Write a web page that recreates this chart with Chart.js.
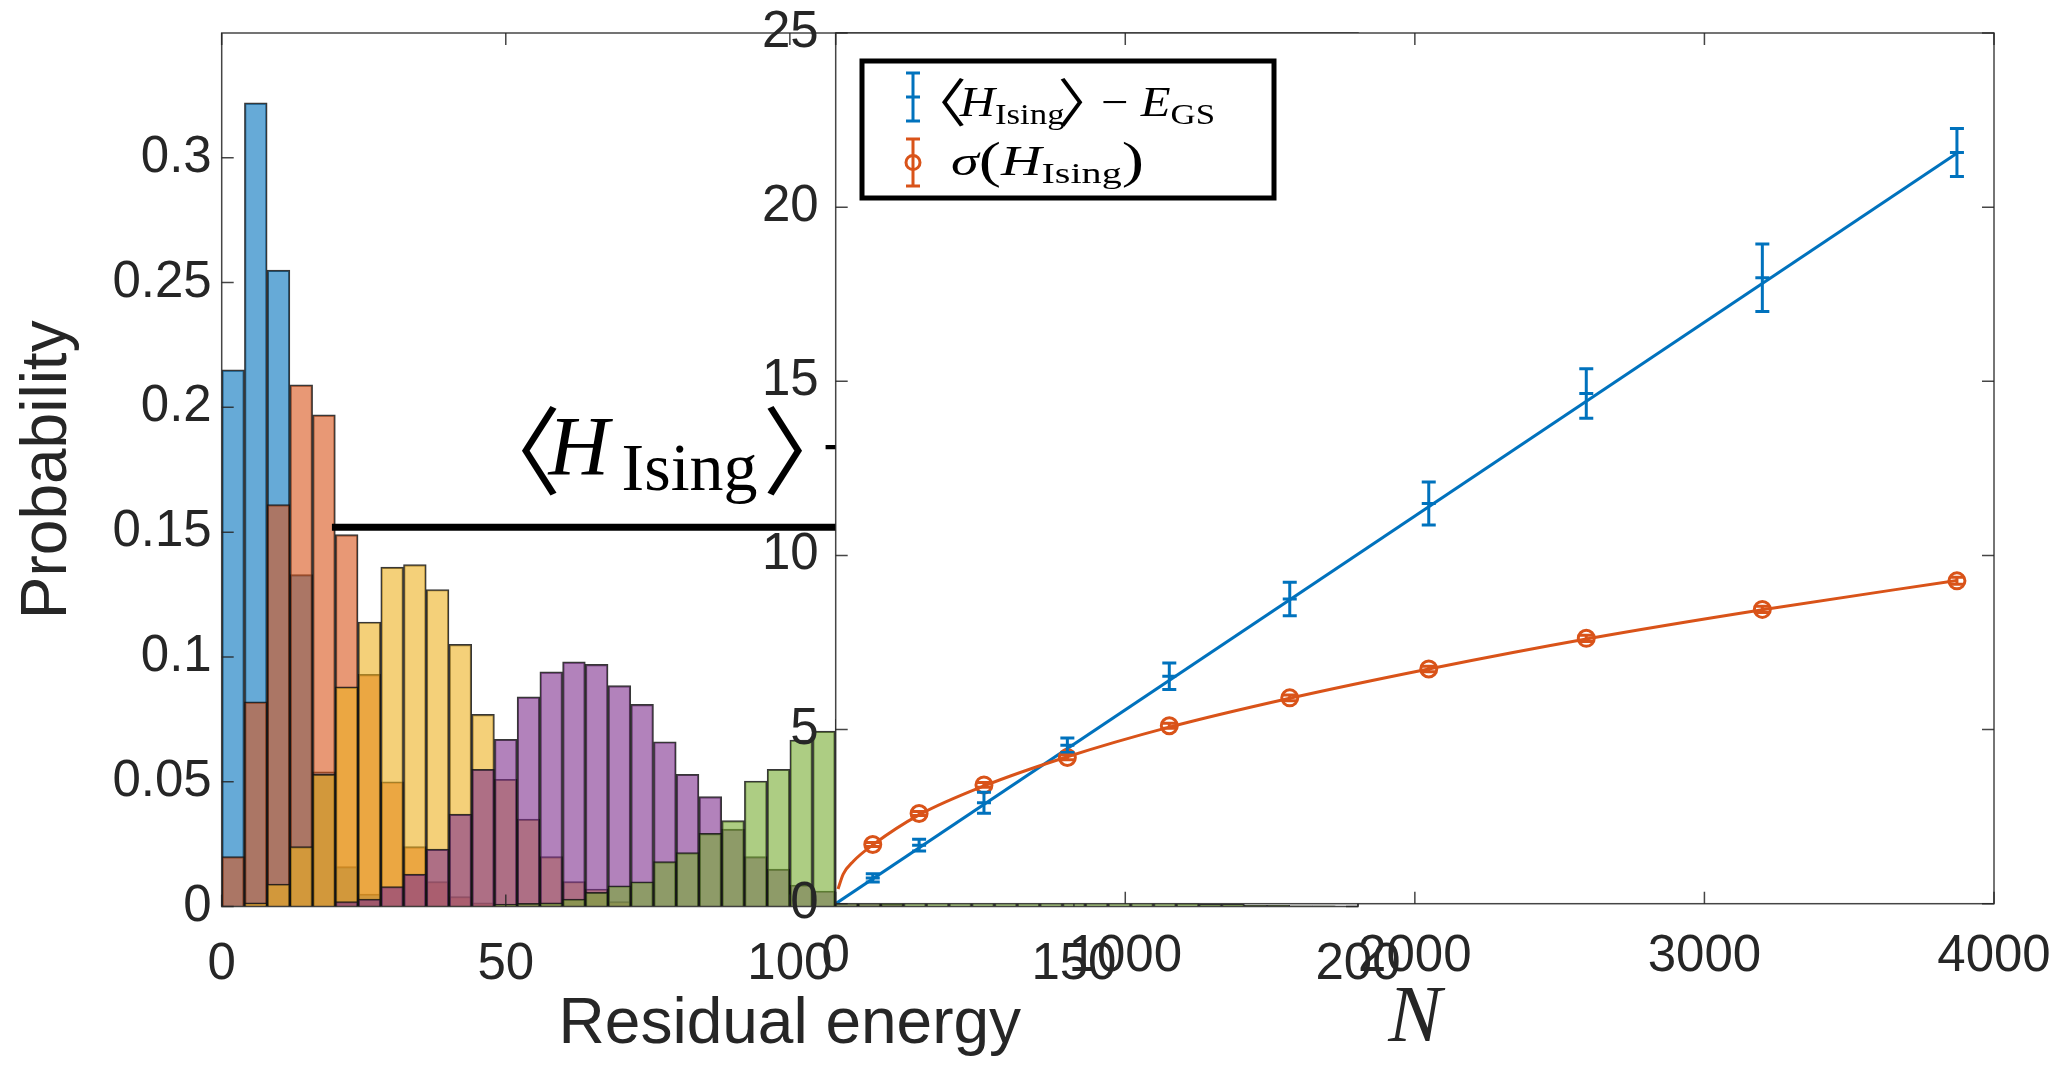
<!DOCTYPE html>
<html><head><meta charset="utf-8">
<script src="https://cdn.jsdelivr.net/npm/chart.js@4/dist/chart.umd.min.js"></script>
<style>
html,body{margin:0;padding:0;background:#fff;}
#wrap{position:relative;width:2066px;height:1068px;overflow:hidden;}
canvas{position:absolute;left:0;top:0;}
</style></head><body>
<div id="wrap"><canvas id="hist" width="2066" height="1068"></canvas><canvas id="inset" width="2066" height="1068"></canvas></div>
<script>
// ---------------- data: histogram (bin width 4) ----------------
const binCenters = [2,6,10,14,18,22,26,30,34,38,42,46,50,54,58,62,66,70,74,78,82,86,90,94,98,102,106,110,114,118,122,126,130,134,138,142,146,150,154,158,162,166,170,174,178,182,186,190,194,198];
const blueProb   = [0.215,0.322,0.255,0.133,0.054,0.016,0.005,0,0,0, 0,0,0,0,0,0,0,0,0,0, 0,0,0,0,0,0,0,0,0,0, 0,0,0,0,0,0,0,0,0,0, 0,0,0,0,0,0,0,0,0,0];
const orangeProb = [0.020,0.082,0.161,0.209,0.197,0.149,0.093,0.050,0.024,0.010, 0.004,0.0015,0,0,0,0,0,0,0,0, 0,0,0,0,0,0,0,0,0,0, 0,0,0,0,0,0,0,0,0,0, 0,0,0,0,0,0,0,0,0,0];
const yellowProb = [0,0.0015,0.009,0.024,0.053,0.088,0.114,0.136,0.137,0.127, 0.105,0.077,0.051,0.035,0.020,0.010,0.007,0.002,0,0, 0,0,0,0,0,0,0,0,0,0, 0,0,0,0,0,0,0,0,0,0, 0,0,0,0,0,0,0,0,0,0];
const purpleProb = [0,0,0,0,0,0.002,0.003,0.008,0.013,0.023, 0.037,0.055,0.067,0.084,0.094,0.098,0.097,0.0885,0.081,0.066, 0.053,0.044,0.031,0.020,0.015,0.0086,0.0062,0.004,0.002,0.001, 0,0,0,0,0,0,0,0,0,0, 0,0,0,0,0,0,0,0,0,0];
const greenProb  = [0,0,0,0,0,0,0,0,0,0, 0,0,0.001,0.0013,0.0015,0.003,0.0057,0.0083,0.0099,0.018, 0.0216,0.0293,0.0344,0.0503,0.055,0.0667,0.0703,0.075,0.078,0.080, 0.078,0.072,0.064,0.053,0.042,0.031,0.022,0.015,0.010,0.006, 0.004,0.002,0.0015,0.001,0.001,0.0005,0.0005,0.0003,0.0003,0];
const histXTicks = [0,50,100,150,200];
const histYTicks = [0,0.05,0.1,0.15,0.2,0.25,0.3];

// ---------------- data: inset ----------------
const nSizes       = [128,288,512,800,1152,1568,2048,2592,3200,3872];
const residualMean = [0.74,1.68,2.90,4.55,6.53,8.75,11.49,14.65,17.97,21.57];
const residualErr  = [0.12,0.17,0.30,0.21,0.38,0.48,0.62,0.71,0.97,0.69];
const sigmaMean    = [1.70,2.59,3.41,4.20,5.11,5.91,6.74,7.62,8.45,9.27];
const sigmaErr     = [0.06,0.06,0.07,0.07,0.07,0.08,0.08,0.09,0.09,0.10];
const linFitN  = [0,3872];
const linFitE  = [0,21.55];
const sqrtFitN = [8,26,61,130,288,512,800,1152,1568,2048,2592,3200,3872];
const sqrtFitS = [0.42,0.85,1.22,1.70,2.55,3.38,4.22,5.07,5.90,6.74,7.60,8.44,9.28];
const insetXTicks = [0,1000,2000,3000,4000];
const insetYTicks = [0,5,10,15,20,25];

// ---------------- styles ----------------
const SANS = "'Liberation Sans',Arial,sans-serif";
const SERIF = "'Liberation Serif','DejaVu Serif',serif";
const BRK = "'Noto Sans CJK JP','Noto Sans CJK SC','DejaVu Sans',sans-serif";
const TICK_FONT = {family:SANS, size:51};
const LABEL_FONT = {family:SANS, size:64};
const TXT = '#262626';
const C_BLUE = '#0072BD', C_ORANGE = '#D95319';
const histFill = ['rgba(0,114,189,0.6)','rgba(217,83,25,0.6)','rgba(237,177,32,0.6)','rgba(126,47,142,0.6)','rgba(119,172,48,0.6)'];
const histSeries = [blueProb, orangeProb, yellowProb, purpleProb, greenProb];
const TL = 12;

function zeroPad(s){ s.paddingLeft=0; s.paddingRight=0; s.paddingTop=0; s.paddingBottom=0; }
function drawBoxTicks(chart, xt, yt){
  const {ctx, chartArea:a, scales:{x,y}} = chart;
  ctx.save();
  ctx.strokeStyle = 'rgba(38,38,38,0.85)'; ctx.lineWidth = 1.5;
  ctx.strokeRect(a.left, a.top, a.right-a.left, a.bottom-a.top);
  ctx.beginPath();
  xt.forEach(v=>{const p=x.getPixelForValue(v); ctx.moveTo(p,a.bottom); ctx.lineTo(p,a.bottom-TL); ctx.moveTo(p,a.top); ctx.lineTo(p,a.top+TL);});
  yt.forEach(v=>{const p=y.getPixelForValue(v); ctx.moveTo(a.left,p); ctx.lineTo(a.left+TL,p); ctx.moveTo(a.right,p); ctx.lineTo(a.right-TL,p);});
  ctx.stroke();
  ctx.restore();
}
// draws a row of text pieces; p.adv overrides the advance (in em), p.ox shifts the glyph (in em)
function drawPieces(ctx, x0, base, pieces, targetW){
  let W = 0;
  pieces.forEach(p=>{ctx.font=p.f; const fs=parseFloat(p.f.replace(/^italic\s+/,'')); p.fs=fs;
    p.w = p.adv!=null ? p.adv*fs : ctx.measureText(p.t).width; W+=p.w;});
  const sx = targetW ? targetW/W : 1;
  ctx.save(); ctx.translate(x0, base); ctx.scale(sx,1);
  ctx.textBaseline='alphabetic'; ctx.textAlign='left';
  let cx = 0;
  pieces.forEach(p=>{
    ctx.font=p.f;
    ctx.fillText(p.t, cx + (p.ox||0)*p.fs, p.dy||0);
    cx+=p.w;
  });
  ctx.restore();
}

// annotation anchors (in histogram data units)
const annoLineY = 0.152, annoLineX0 = 19.4, annoLineX1 = 110;
const annoTextX = 53.3, annoTextBaseY = 0.173;

const histDecor = {
  id:'histDecor',
  afterDraw(chart){
    drawBoxTicks(chart, histXTicks, histYTicks);
    const {ctx, scales:{x,y}} = chart;
    ctx.save();
    ctx.strokeStyle='#000'; ctx.lineWidth=7;
    ctx.beginPath();
    ctx.moveTo(x.getPixelForValue(annoLineX0), y.getPixelForValue(annoLineY));
    ctx.lineTo(x.getPixelForValue(annoLineX1), y.getPixelForValue(annoLineY));
    ctx.stroke();
    const ax = x.getPixelForValue(annoTextX), ab = y.getPixelForValue(annoTextBaseY);
    ctx.fillStyle='#000'; ctx.textBaseline='alphabetic'; ctx.textAlign='left';
    ctx.font = "96px "+BRK;
    ctx.fillText('〈', ax-59, ab+12);
    ctx.font = "italic 84px 'Liberation Serif',serif";
    ctx.fillText('H', ax+24, ab);
    ctx.font = "68px 'Liberation Serif',serif";
    ctx.fillText('Ising', ax+97, ab+15);
    ctx.font = "96px "+BRK;
    ctx.fillText('〉', ax+238, ab+12);
    ctx.font = "84px 'Liberation Serif',serif";
    ctx.fillText('−', ax+297, ab);
    ctx.restore();
  }
};

new Chart(document.getElementById('hist'), {
  type:'bar',
  data:{datasets: histSeries.map((arr,i)=>({
    data: arr.map((v,j)=>({x:binCenters[j], y: v>0 ? v : null})),
    backgroundColor: histFill[i], borderColor:'rgba(20,20,20,0.85)', borderWidth:1.5,
    grouped:false, barPercentage:1, categoryPercentage:1, order: 4-i
  }))},
  options:{
    responsive:false, animation:false, devicePixelRatio:1, events:[],
    layout:{padding:{left:0,right:708,top:33,bottom:0}},
    plugins:{legend:{display:false}, tooltip:{enabled:false}},
    scales:{
      x:{type:'linear', min:0, max:200, offset:false,
        grid:{display:false, drawTicks:false}, border:{display:false},
        afterBuildTicks:s=>{s.ticks = histXTicks.map(v=>({value:v}));},
        afterFit:s=>{s.height = 161.5; zeroPad(s);},
        ticks:{autoSkip:false, maxRotation:0, padding:28, font:TICK_FONT, color:TXT, callback:v=>String(v)},
        title:{display:true, text:'Residual energy', font:LABEL_FONT, color:TXT, padding:{top:0,bottom:4}}},
      y:{type:'linear', min:0, max:0.35,
        grid:{display:false, drawTicks:false}, border:{display:false},
        afterBuildTicks:s=>{s.ticks = histYTicks.map(v=>({value:v}));},
        afterFit:s=>{s.width = 221.7; zeroPad(s);},
        ticks:{autoSkip:false, padding:10, font:TICK_FONT, color:TXT, callback:v=>String(v)},
        title:{display:true, text:'Probability', font:LABEL_FONT, color:TXT, padding:{top:10,bottom:0}}}
    }
  },
  plugins:[histDecor]
});

// ---------------- inset ----------------
const insetDecor = {
  id:'insetDecor',
  beforeDraw(chart){
    const {ctx, chartArea:a} = chart;
    ctx.save(); ctx.fillStyle='#fff'; ctx.fillRect(a.left, a.top, a.right-a.left, a.bottom-a.top); ctx.restore();
  },
  afterDatasetsDraw(chart){
    const {ctx, scales:{x,y}} = chart;
    const bars = [[residualMean,residualErr,C_BLUE],[sigmaMean,sigmaErr,C_ORANGE]];
    ctx.save(); ctx.lineWidth=3;
    bars.forEach(([m,e,c])=>{
      ctx.strokeStyle=c; ctx.beginPath();
      nSizes.forEach((n,i)=>{
        const px=x.getPixelForValue(n), y0=y.getPixelForValue(m[i]-e[i]), y1=y.getPixelForValue(m[i]+e[i]);
        ctx.moveTo(px,y0); ctx.lineTo(px,y1);
        ctx.moveTo(px-7,y0); ctx.lineTo(px+7,y0);
        ctx.moveTo(px-7,y1); ctx.lineTo(px+7,y1);
      });
      ctx.stroke();
    });
    ctx.restore();
  },
  afterDraw(chart){
    drawBoxTicks(chart, insetXTicks, insetYTicks);
    const {ctx} = chart;
    ctx.save();
    // legend box
    ctx.fillStyle='#fff'; ctx.fillRect(862,61,412,137);
    ctx.strokeStyle='#000'; ctx.lineWidth=5; ctx.strokeRect(862,61,412,137);
    // icons
    ctx.lineWidth=3;
    ctx.strokeStyle=C_BLUE; ctx.beginPath();
    ctx.moveTo(913,73); ctx.lineTo(913,121); ctx.moveTo(906,73); ctx.lineTo(920,73); ctx.moveTo(906,121); ctx.lineTo(920,121);
    ctx.moveTo(906,97); ctx.lineTo(920,97); ctx.stroke();
    ctx.strokeStyle=C_ORANGE; ctx.beginPath();
    ctx.moveTo(913,139); ctx.lineTo(913,186); ctx.moveTo(906,139); ctx.lineTo(920,139); ctx.moveTo(906,186); ctx.lineTo(920,186);
    ctx.stroke();
    ctx.beginPath(); ctx.arc(913,162.5,7,0,Math.PI*2); ctx.stroke();
    // texts
    ctx.fillStyle='#000';
    const B = "52px "+BRK, P = "50px "+SERIF, M = "42px "+SERIF, MI = "italic 42px "+SERIF, S = "30px "+SERIF;
    drawPieces(ctx, 938, 116, [{t:'〈',f:B,dy:6,adv:0.36,ox:-0.52},{t:'H',f:MI},{t:'Ising',f:S,dy:8},{t:'〉',f:B,dy:6,adv:0.4,ox:-0.12},{t:' − ',f:M},{t:'E',f:MI},{t:'GS',f:S,dy:8}], 277);
    drawPieces(ctx, 951, 175, [{t:'σ',f:MI},{t:'(',f:P,dy:2},{t:'H',f:MI},{t:'Ising',f:S,dy:8},{t:')',f:P,dy:2}], 193);
    ctx.restore();
  }
};

new Chart(document.getElementById('inset'), {
  type:'line',
  data:{datasets:[
    {data: linFitN.map((n,i)=>({x:n,y:linFitE[i]})), borderColor:C_BLUE, borderWidth:3, pointRadius:0, fill:false, order:3},
    {data: sqrtFitN.map((n,i)=>({x:n,y:sqrtFitS[i]})), borderColor:C_ORANGE, borderWidth:3, pointRadius:0, fill:false, cubicInterpolationMode:'monotone', order:2},
    {data: nSizes.map((n,i)=>({x:n,y:residualMean[i]})), showLine:false, pointStyle:'line', pointRadius:7, pointBorderWidth:3, borderColor:C_BLUE, backgroundColor:C_BLUE, order:1},
    {data: nSizes.map((n,i)=>({x:n,y:sigmaMean[i]})), showLine:false, pointStyle:'circle', pointRadius:8, pointBorderWidth:3, borderColor:C_ORANGE, backgroundColor:'rgba(0,0,0,0)', order:0}
  ]},
  options:{
    responsive:false, animation:false, devicePixelRatio:1, events:[],
    layout:{padding:{left:0,right:72,top:33,bottom:0}},
    plugins:{legend:{display:false}, tooltip:{enabled:false}},
    scales:{
      x:{type:'linear', min:0, max:4000,
        grid:{display:false, drawTicks:false}, border:{display:false},
        afterBuildTicks:s=>{s.ticks = insetXTicks.map(v=>({value:v}));},
        afterFit:s=>{s.height = 164.3; zeroPad(s);},
        ticks:{autoSkip:false, maxRotation:0, padding:23, font:TICK_FONT, color:TXT, callback:v=>String(v)},
        title:{display:true, text:'N', font:{family:SERIF, size:80, style:'italic'}, color:TXT, padding:{top:0,bottom:0}}},
      y:{type:'linear', min:0, max:25,
        grid:{display:false, drawTicks:false}, border:{display:false},
        afterBuildTicks:s=>{s.ticks = insetYTicks.map(v=>({value:v}));},
        afterFit:s=>{s.width = 835.7; zeroPad(s);},
        ticks:{autoSkip:false, padding:17, font:TICK_FONT, color:TXT, callback:v=>String(v)}}
    }
  },
  plugins:[insetDecor]
});
</script>
</body></html>
